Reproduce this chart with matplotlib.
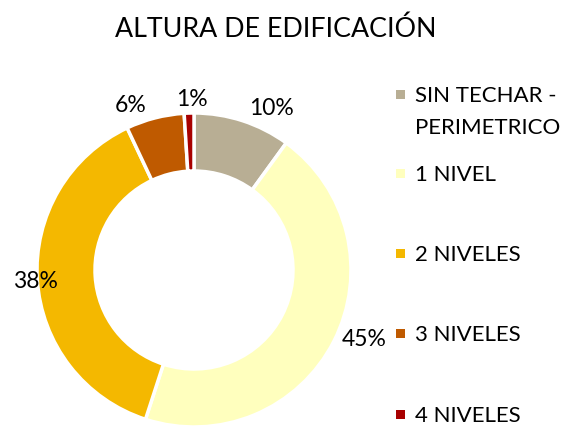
import matplotlib
matplotlib.use('Agg')
import matplotlib.pyplot as plt
from matplotlib.patches import Rectangle

# ========== Data ==========
categories = ['SIN TECHAR -\nPERIMETRICO', '1 NIVEL', '2 NIVELES', '3 NIVELES', '4 NIVELES']
values = [10, 45, 38, 6, 1]
pct_labels = ['10%', '45%', '38%', '6%', '1%']
colors = ['#B8AE94', '#FFFFBE', '#F4B800', '#BF5A00', '#A80000']

# label / legend placement in pixel coords (y from top)
label_pos = [(271, 106), (364, 337), (35, 279), (131, 103), (192, 97)]
legend_y = [94, 173, 253, 333, 414]

W, H = 568, 428
plt.rcParams['font.family'] = ['Lato', 'DejaVu Sans']

fig = plt.figure(figsize=(W / 100, H / 100), dpi=100)
ax = fig.add_axes([0, 0, 1, 1])

cx, cy, r = 194, H - 270, 157
ax.pie(values, colors=colors, center=(cx, cy), radius=r, startangle=90,
       counterclock=False, frame=True,
       wedgeprops=dict(width=58, edgecolor='white', linewidth=2.5))
ax.set_xlim(0, W)
ax.set_ylim(0, H)
ax.set_aspect('equal')
ax.axis('off')

for txt, (x, y) in zip(pct_labels, label_pos):
    ax.text(x, H - y, txt, ha='center', va='center_baseline', fontsize=16.5, color='black')

ax.text(276, H - 27, 'ALTURA DE EDIFICACIÓN', ha='center', va='center_baseline',
        fontsize=19.3, color='black')

line_h = 32
for lab, col, y in zip(categories, colors, legend_y):
    ax.add_patch(Rectangle((396, H - y - 4.5), 9, 9, facecolor=col, edgecolor='none'))
    for k, part in enumerate(lab.split('\n')):
        ax.text(415, H - y - k * line_h, part, ha='left', va='center_baseline',
                fontsize=16, color='black')

fig.savefig('out.png', dpi=100)
